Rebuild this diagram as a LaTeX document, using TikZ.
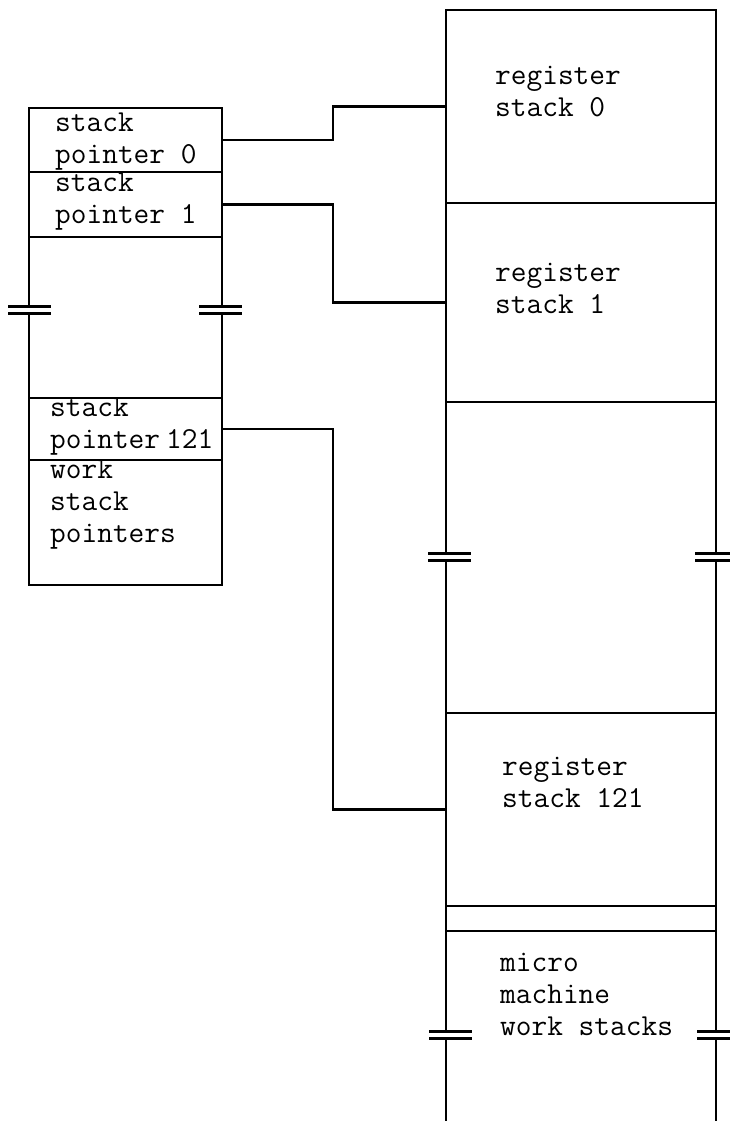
\documentclass[tikz,border=0pt]{standalone}
\usepackage{fontspec}
\newcommand\brk[2]{\draw[edge] ({#1-21},{#2-3.5}) -- ({#1+22},{#2-3.5}) ({#1-21},{#2+3.5}) -- ({#1+22},{#2+3.5});}
\begin{document}
\begin{tikzpicture}[x=1pt,y=-1pt,
  box/.style={draw, line width=2.8pt, inner sep=0pt, outer sep=0pt, anchor=north west},
  wire/.style={line width=2.3pt},
  edge/.style={line width=2.6pt},
  lbl/.style={font=\ttfamily\fontsize{30.5}{32}\selectfont, align=left, anchor=base west, inner sep=0pt}]
\useasboundingbox (0,0) rectangle (730,1121);
% left column
\node[box, minimum width=193pt, minimum height=64pt] (sp0) at (29,108) {};
\node[box, minimum width=193pt, minimum height=65pt] (sp1) at (29,172) {};
\node[box, minimum width=193pt, minimum height=62pt] (sp121) at (29,398) {};
\node[box, minimum width=193pt, minimum height=125pt] (wsp) at (29,460) {};
\draw[edge] (sp1.south west) -- (29,306.5) (29,313.5) -- (sp121.north west);
\draw[edge] (sp1.south east) -- (222,306.5) (222,313.5) -- (sp121.north east);
\brk{29}{310}
\brk{220}{310}
% right column
\node[box, minimum width=270pt, minimum height=193pt] (rs0) at (446,10) {};
\node[box, minimum width=270pt, minimum height=199pt] (rs1) at (446,203) {};
\node[box, minimum width=270pt, minimum height=193pt] (rs121) at (446,713) {};
\node[box, minimum width=270pt, minimum height=25pt] (sep) at (446,906) {};
\draw[edge] (rs1.south west) -- (446,553.5) (446,560.5) -- (rs121.north west);
\draw[edge] (rs1.south east) -- (716,553.5) (716,560.5) -- (rs121.north east);
\brk{449}{557}
\brk{716}{557}
\draw[edge] (sep.south west) -- (446,1031.5) (446,1038.5) -- (446,1125);
\draw[edge] (sep.south east) -- (716,1031.5) (716,1038.5) -- (716,1125);
\brk{450}{1035}
\brk{718}{1035}
% connectors
\coordinate (mx) at (333,0);
\draw[wire] (sp0.east) -- (sp0.east -| mx) |- (rs0.west);
\draw[wire] (sp1.east) -- (sp1.east -| mx) |- (rs1.west);
\draw[wire] (sp121.east) -- (sp121.east -| mx) |- (rs121.west);
% labels (anchored at the baseline of the last line)
\node[lbl] (t0) at (55,163) {stack\\pointer 0};
\node[lbl] (t1) at (55,223) {stack\\pointer 1};
\node[lbl] (t121) at (50,448) {stack\\pointer\hbox to 6pt{}121};
\node[lbl] (tw) at (50,542) {work\\stack\\pointers};
\node[lbl] (r0) at (495,117) {register\\stack 0};
\node[lbl] (r1) at (495,313) {register\\stack 1};
\node[lbl] (r121) at (502,807) {register\\stack 121};
\node[lbl] (mm) at (500,1035) {micro\\machine\\work stacks};
\end{tikzpicture}
\end{document}
